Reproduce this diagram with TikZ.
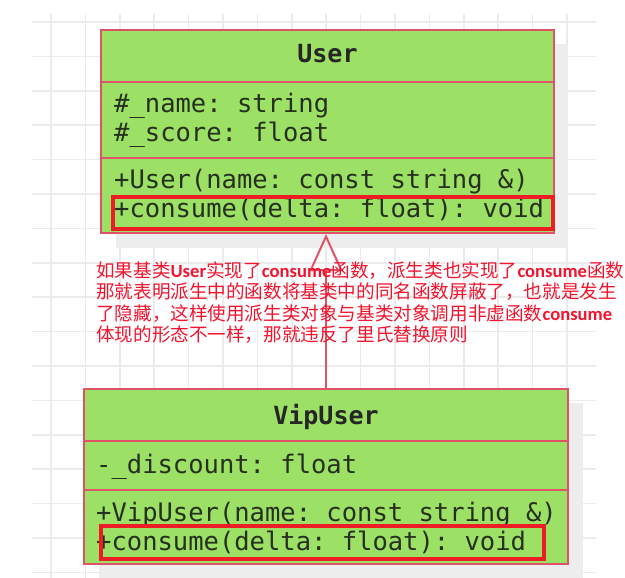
\documentclass[tikz,border=0pt]{standalone}
\usepackage{fontspec}
\setmonofont{DejaVu Sans Mono}
\newfontfamily\cjk{Noto Sans CJK SC}
\newfontfamily\latb{Carlito}
\usetikzlibrary{arrows.meta}
\definecolor{gridc}{HTML}{EBEBEB}
\definecolor{shadowc}{HTML}{EDEDED}
\definecolor{boxfill}{HTML}{9CE065}
\definecolor{boxline}{HTML}{DE5368}
\definecolor{hlred}{HTML}{EE1C25}
\definecolor{txt}{HTML}{26301E}
\definecolor{notec}{HTML}{F2142E}
\newcommand{\kw}[1]{{\latb\bfseries #1}}
\tikzset{
  umlbox/.style={draw=boxline, line width=2pt, fill=boxfill, inner sep=0pt},
  divider/.style={draw=boxline, line width=2pt},
  hlbox/.style={draw=hlred, line width=3.2pt, inner sep=0pt},
  member/.style={anchor=base west, inner sep=0pt, text=txt,
    font=\ttfamily\fontsize{25.5}{30}\selectfont},
  title/.style={anchor=base, inner sep=0pt, text=black!85,
    font=\ttfamily\bfseries\fontsize{25}{30}\selectfont},
  notetxt/.style={anchor=base west, inner sep=0pt, text=notec,
    font=\cjk\fontsize{18.6}{21.5}\selectfont},
  inherit/.style={draw=boxline, line width=2pt,
    -{Triangle[open, length=37pt, width=33pt, line width=2pt]}},
  gridline/.style={draw=gridc, line width=1.5pt}
}
\begin{document}
\begin{tikzpicture}[x=1pt, y=-1pt]
\useasboundingbox (0,0) rectangle (625,578);
\fill[white] (0,0) rectangle (625,578);
% grid
\foreach \k in {0,...,15} \draw[gridline] (51+34.4*\k,14) -- (51+34.4*\k,578);
\foreach \k in {0,...,16} \draw[gridline] (32,22+34.4*\k) -- (596,22+34.4*\k);
% shadows
\fill[shadowc] (116,44) rectangle (568,248);
\fill[shadowc] (99,403) rectangle (583,578);
% User class
\node[umlbox, minimum width=453pt, minimum height=203pt] (user) at (327.5,131.5) {};
\draw[divider] (user.west |- 0,82) -- (user.east |- 0,82);
\draw[divider] (user.west |- 0,158) -- (user.east |- 0,158);
\node[title] (utitle) at (327.5,62.7) {User};
\node[member] (ua1) at (114,112.7) {\#\_name: string};
\node[member] (ua2) at (114,142) {\#\_score: float};
\node[member] (um1) at (114,189) {+User(name: const string \&)};
\node[member] (um2) at (114,218) {+consume(delta: float): void};
\node[hlbox, minimum width=440pt, minimum height=32pt] (uhl) at (333,213) {};
% VipUser class
\node[umlbox, minimum width=484pt, minimum height=175pt] (vip) at (326,476.5) {};
\draw[divider] (vip.west |- 0,441) -- (vip.east |- 0,441);
\draw[divider] (vip.west |- 0,490) -- (vip.east |- 0,490);
\node[title] (vtitle) at (326,424) {VipUser};
\node[member] (va1) at (96,473) {-\_discount: float};
\node[member] (vm1) at (96,521) {+VipUser(name: const string \&)};
\node[member] (vm2) at (96,550) {+consume(delta: float): void};
\node[hlbox, minimum width=443pt, minimum height=33pt] (vhl) at (322.5,542.5) {};
% inheritance
\draw[inherit] (vip.north -| 326,0) -- (user.south -| 326,0);
% note
\node[notetxt] (n1) at (96,277) {如果基类\kw{User}实现了\kw{consume}函数，派生类也实现了\kw{consume}函数};
\node[notetxt] (n2) at (96,298.5) {那就表明派生中的函数将基类中的同名函数屏蔽了，也就是发生};
\node[notetxt] (n3) at (96,320) {了隐藏，这样使用派生类对象与基类对象调用非虚函数\kw{consume}};
\node[notetxt] (n4) at (96,341.5) {体现的形态不一样，那就违反了里氏替换原则};
\end{tikzpicture}
\end{document}
